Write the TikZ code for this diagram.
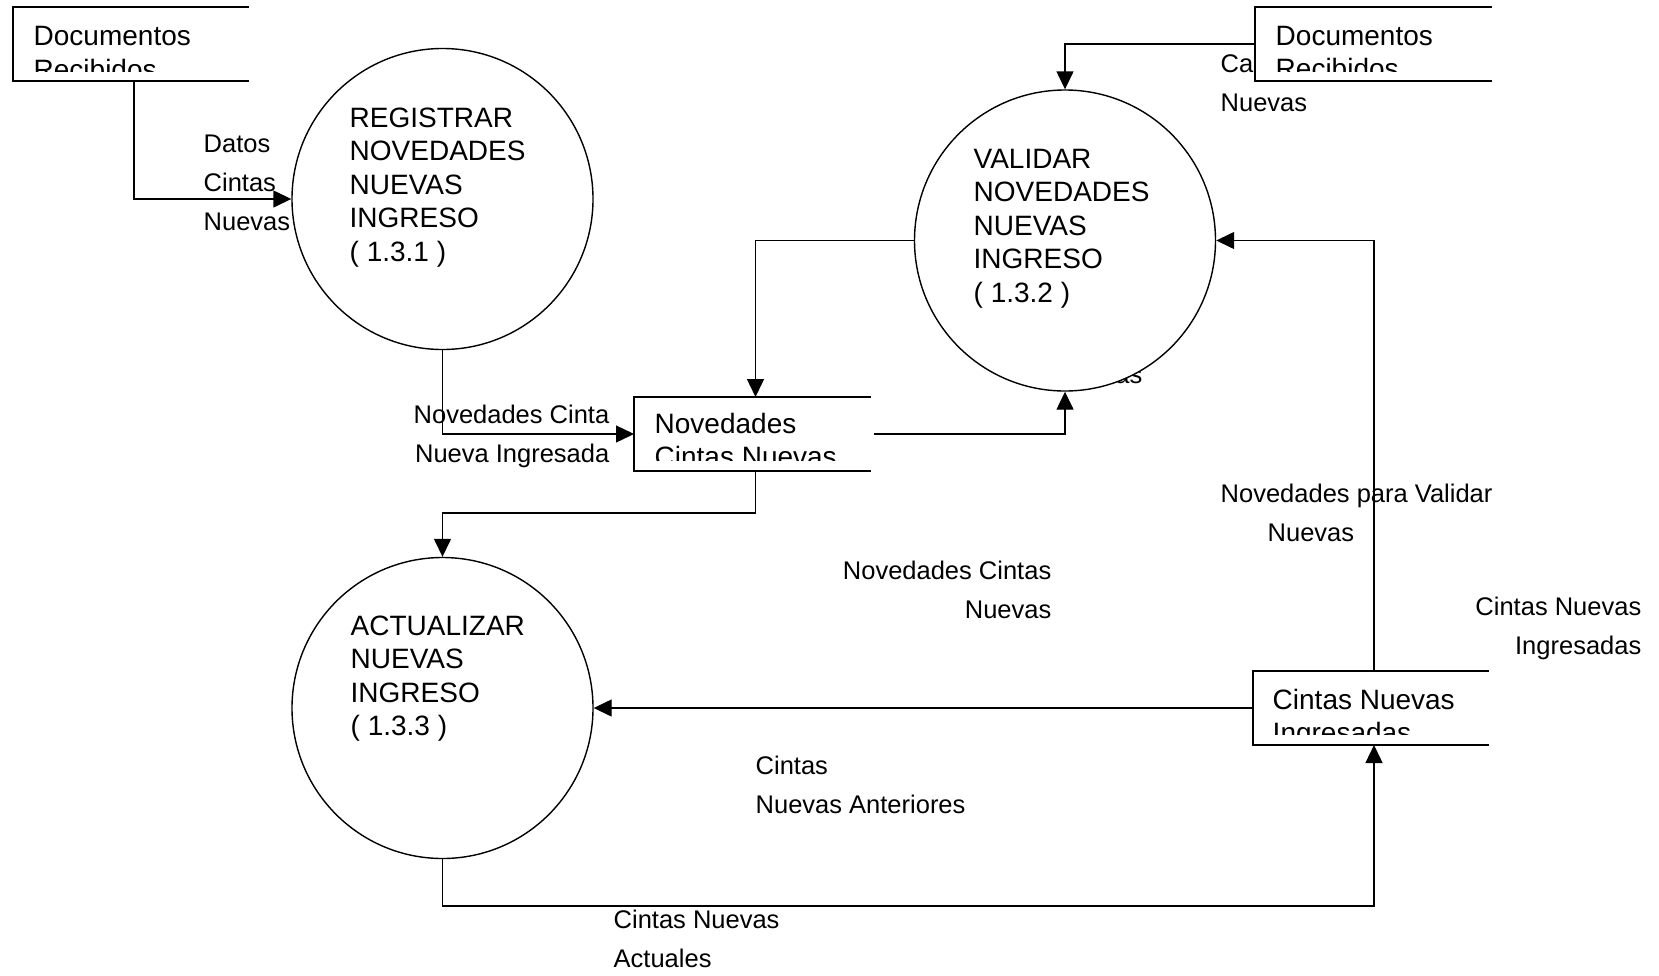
\documentclass[tikz,border=0pt]{standalone}
\usepackage{fontspec}
\setmainfont{Liberation Sans}
\usetikzlibrary{arrows.meta}

% text sizes: process/store names and flow labels
\newcommand{\procfont}{\fontsize{28}{33.5}\selectfont}
\newcommand{\flowfont}{\fontsize{25.5}{39}\selectfont}
% multi-line blocks whose baseline is the first line
\newcommand{\leftlines}[1]{\begin{tabular}[t]{@{}l@{}}#1\end{tabular}}
\newcommand{\rightlines}[1]{\begin{tabular}[t]{@{}r@{}}#1\end{tabular}}

\begin{document}
\begin{tikzpicture}[x=1pt, y=-1pt, line width=1.4pt,
  process/.style={circle, draw, fill=white, minimum size=301pt, inner sep=0pt},
  store/.style={rectangle, fill=white, minimum height=74pt, inner sep=0pt, outer sep=0pt},
  flow/.style={-{Triangle[length=18pt,width=17pt]}},
  proctext/.style={anchor=base west, inner sep=0pt, font=\procfont},
  flowtext/.style={anchor=base west, inner sep=0pt, font=\flowfont},
  flowtextr/.style={anchor=base east, inner sep=0pt, font=\flowfont},
]
\useasboundingbox (0,0) rectangle (1659,975);

% labels partly covered by the shapes drawn after them
\node[flowtextr] (lblValid) at (1143,383) {Validadas};
\node[flowtext] (lblCamb) at (1220,72) {\leftlines{Ca\\Nuevas}};

% processes
\node[process] (c1) at (442.5,199) {};
\node[process] (c2) at (1065,240.5) {};
\node[process] (c3) at (442.5,708) {};
\node[proctext] (c1t) at (349,127) {\leftlines{REGISTRAR\\NOVEDADES\\NUEVAS\\INGRESO\\( 1.3.1 )}};
\node[proctext] (c2t) at (973,168) {\leftlines{VALIDAR\\NOVEDADES\\NUEVAS\\INGRESO\\( 1.3.2 )}};
\node[proctext] (c3t) at (350,635) {\leftlines{ACTUALIZAR\\NUEVAS\\INGRESO\\( 1.3.3 )}};

% data stores (open on the right)
\node[store, minimum width=236pt] (doc1) at (131,44) {};
\node[store, minimum width=237pt] (doc2) at (1373.5,44) {};
\node[store, minimum width=237pt] (nov) at (752.5,434) {};
\node[store, minimum width=236pt] (cin) at (1371,708) {};
\foreach \s in {doc1,doc2,nov,cin}
  \draw (\s.north east) -- (\s.north west) -- (\s.south west) -- (\s.south east);

\begin{scope}
  \clip (doc1.north west) rectangle ([yshift=10pt]doc1.south east);
  \node[proctext] (doc1t) at (33,45.5) {\leftlines{Documentos\\Recibidos}};
\end{scope}
\begin{scope}
  \clip (doc2.north west) rectangle ([yshift=10pt]doc2.south east);
  \node[proctext] (doc2t) at (1275,45) {\leftlines{Documentos\\Recibidos}};
\end{scope}
\begin{scope}
  \clip (nov.north west) rectangle ([yshift=11pt]nov.south east);
  \node[proctext] (novt) at (654,433) {\leftlines{Novedades\\Cintas Nuevas}};
\end{scope}
\begin{scope}
  \clip (cin.north west) rectangle ([yshift=11pt]cin.south east);
  \node[proctext] (cint) at (1272,709) {\leftlines{Cintas Nuevas\\Ingresadas}};
\end{scope}

% attachment points on the stores
\coordinate (doc1S) at ([xshift=3pt]doc1.south);
\coordinate (novN) at ([xshift=3pt]nov.north);
\coordinate (novS) at ([xshift=3pt]nov.south);
\coordinate (novE) at ([xshift=3pt]nov.east);
\coordinate (cinN) at ([xshift=3pt]cin.north);
\coordinate (cinS) at ([xshift=3pt]cin.south);
\coordinate (bottom) at (442.5,906);

% data flows
\draw[flow] (doc1S) |- (c1.west);
\draw[flow] (c1.south) |- (nov.west);
\draw[flow] (c2.west) -| (novN);
\draw[flow] (novE) -| (c2.south);
\draw[flow] (novS) -- ++(0,42) -| (c3.north);
\draw[flow] (doc2.west) -| (c2.north);
\draw[flow] (cinN) |- (c2.east);
\draw[flow] (cin.west) -- (c3.east);
\draw[flow] (c3.south) |- (bottom -| cinS) -- (cinS);

% flow labels
\node[flowtext] (lblDatos) at (203,152) {\leftlines{Datos\\Cintas\\Nuevas}};
\node[flowtextr] (lblIngr) at (610,423) {\rightlines{Novedades Cinta\\Nueva Ingresada}};
\node[flowtext] (lblParaVal) at (1220,502) {\leftlines{Novedades para Validar\\\hspace{47pt}Nuevas}};
\node[flowtextr] (lblNovC) at (1052,579) {\rightlines{Novedades Cintas\\Nuevas}};
\node[flowtextr] (lblCinIng) at (1642,615) {\rightlines{Cintas Nuevas\\Ingresadas}};
\node[flowtext] (lblAnt) at (755,774) {\leftlines{Cintas\\Nuevas Anteriores}};
\node[flowtext] (lblAct) at (613,928) {\leftlines{Cintas Nuevas\\Actuales}};
\end{tikzpicture}
\end{document}
